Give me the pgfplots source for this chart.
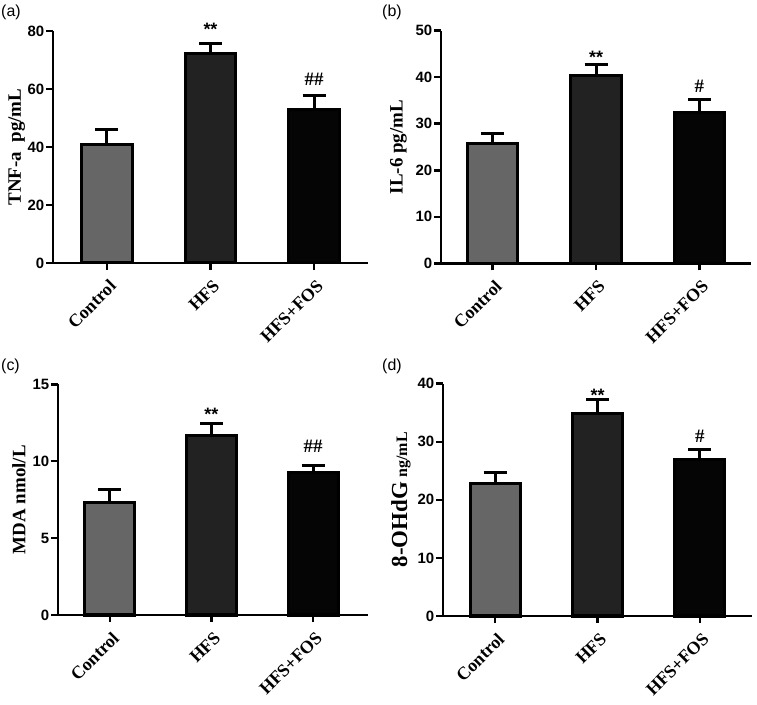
\documentclass[border=0pt]{standalone}
\usepackage{pgfplots}
\pgfplotsset{compat=1.18}
\usepackage{fontspec}
\setmainfont{Liberation Serif}
\newfontfamily\arial{Liberation Sans}
\newcommand\tickfont{\arial\bfseries\fontsize{15}{15}\selectfont}
\newcommand\starfont{\arial\bfseries\fontsize{18}{18}\selectfont}
\newcommand\labfont{\bfseries\fontsize{19}{19}\selectfont}
\newcommand\catfont{\bfseries\fontsize{18}{18}\selectfont}
\newcommand\panelfont{\arial\fontsize{16}{16}\selectfont}
\definecolor{ctrl}{RGB}{102,102,102}
\definecolor{hfs}{RGB}{34,34,34}
\definecolor{fos}{RGB}{5,5,5}
\pgfplotsset{
  panel/.style={
    scale only axis,
    axis x line*=bottom, axis y line*=left,
    xtick={0,1,2}, xticklabels={Control,HFS,HFS+FOS},
    xtick pos=left, ytick pos=left,
    ymin=0, tick align=outside, major tick length=7bp,
    axis line style={line width=2.5bp, black},
    tick style={line width=2.5bp, black},
    clip=false,
    /pgf/number format/assume math mode=true,
    yticklabel style={font=\tickfont, inner sep=1.5bp},
    xticklabel style={font=\catfont, xshift=6bp, yshift=-13bp, rotate=45, anchor=east, inner sep=0pt},
  },
  bar/.style={ybar, bar width=0.49, draw=black, line width=3bp, fill=#1,
    error bars/.cd, y dir=plus, y explicit,
    error mark=|,
    error bar style={line width=3bp, black},
    error mark options={line width=3bp, black, mark size=11.5bp}},
}
\begin{document}
\begin{tikzpicture}
\useasboundingbox (0bp,0bp) rectangle (757bp,705bp);
% (a)
\begin{axis}[panel, at={(53bp,442bp)}, anchor=south west, width=315bp, height=232bp,
  xmin=-0.52, xmax=2.52, ymax=80, ytick={0,20,40,60,80},
  ylabel={TNF-a\ \ pg/mL},
  every axis y label/.style={at={(axis description cs:-0.115,0.5)}, rotate=90, anchor=center, font=\labfont}]
\addplot[bar=ctrl] coordinates {(0,41.0) +- (0,5.1)};
\addplot[bar=hfs] coordinates {(1,72.1) +- (0,3.7)};
\addplot[bar=fos] coordinates {(2,53.1) +- (0,4.6)};
\node[font=\starfont, anchor=base] at (axis cs:1,78.5) {**};
\node[font=\labfont] at (axis cs:2,63.3) {\#\#};
\end{axis}
% (b)
\begin{axis}[panel, at={(441bp,441.7bp)}, anchor=south west, width=310bp, height=232.6bp,
  xmin=-0.5, xmax=2.5, ymax=50, ytick={0,10,20,30,40,50},
  ylabel={IL-6 pg/mL},
  every axis y label/.style={at={(axis description cs:-0.137,0.5)}, rotate=90, anchor=center, font=\labfont}]
\addplot[bar=ctrl] coordinates {(0,25.8) +- (0,2.0)};
\addplot[bar=hfs] coordinates {(1,40.3) +- (0,2.5)};
\addplot[bar=fos] coordinates {(2,32.4) +- (0,2.9)};
\node[font=\starfont, anchor=base] at (axis cs:1,42.9) {**};
\node[font=\labfont] at (axis cs:2,38.1) {\#};
\end{axis}
% (c)
\begin{axis}[panel, at={(58bp,90bp)}, anchor=south west, width=310bp, height=230.7bp,
  xmin=-0.51, xmax=2.54, ymax=15, ytick={0,5,10,15},
  ylabel={MDA nmol/L},
  every axis y label/.style={at={(axis description cs:-0.126,0.5)}, rotate=90, anchor=center, font=\labfont}]
\addplot[bar=ctrl] coordinates {(0,7.33) +- (0,0.80)};
\addplot[bar=hfs] coordinates {(1,11.66) +- (0,0.76)};
\addplot[bar=fos] coordinates {(2,9.25) +- (0,0.48)};
\node[font=\starfont, anchor=base] at (axis cs:1,12.65) {**};
\node[font=\labfont] at (axis cs:2,11.0) {\#\#};
\end{axis}
% (d)
\begin{axis}[panel, at={(443bp,89bp)}, anchor=south west, width=309bp, height=232.3bp,
  xmin=-0.51, xmax=2.51, ymax=40, ytick={0,10,20,30,40},
  ylabel={{\fontsize{23}{23}\selectfont 8-OHdG} {\fontsize{16}{16}\selectfont ng/mL}},
  every axis y label/.style={at={(axis description cs:-0.136,0.5)}, rotate=90, anchor=center, font=\labfont}]
\addplot[bar=ctrl] coordinates {(0,22.85) +- (0,1.85)};
\addplot[bar=hfs] coordinates {(1,34.8) +- (0,2.5)};
\addplot[bar=fos] coordinates {(2,27.0) +- (0,1.6)};
\node[font=\starfont, anchor=base] at (axis cs:1,37.0) {**};
\node[font=\labfont] at (axis cs:2,31.0) {\#};
\end{axis}
\node[font=\panelfont, anchor=west, inner sep=0pt] at (1bp,693bp) {(a)};
\node[font=\panelfont, anchor=west, inner sep=0pt] at (382bp,693bp) {(b)};
\node[font=\panelfont, anchor=west, inner sep=0pt] at (1bp,339bp) {(c)};
\node[font=\panelfont, anchor=west, inner sep=0pt] at (382bp,339bp) {(d)};
\end{tikzpicture}
\end{document}
